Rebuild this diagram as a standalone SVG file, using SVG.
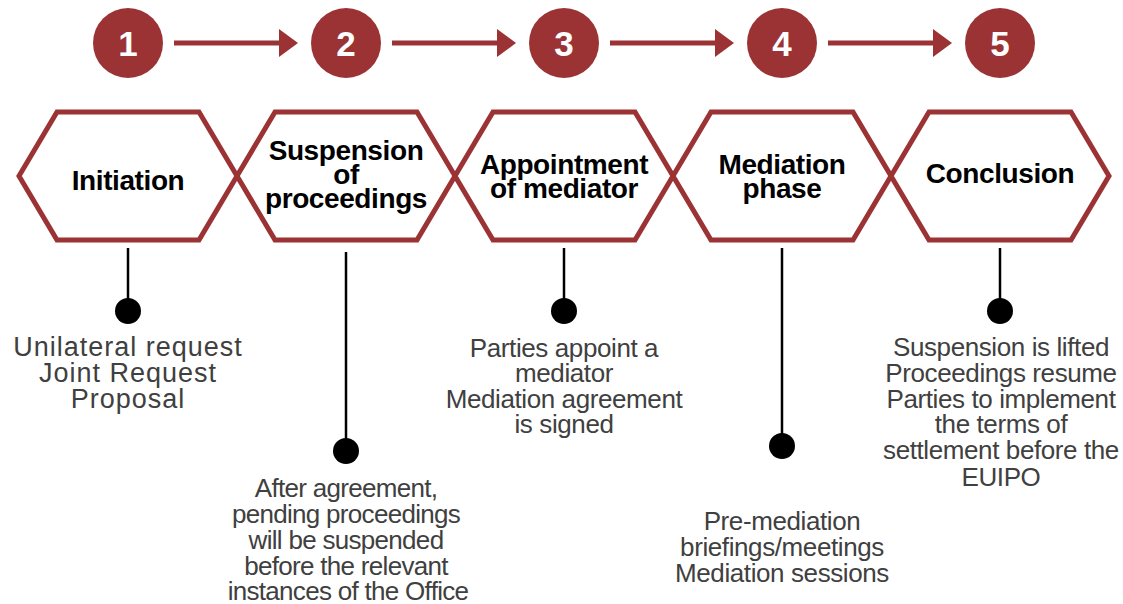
<svg xmlns="http://www.w3.org/2000/svg" width="1123" height="604" viewBox="0 0 1123 604">
  <style>
    .step { fill: #9b3335; }
    .num { fill: #ffffff; font-family: "Liberation Sans", Arial, sans-serif; font-weight: bold; font-size: 35px; text-anchor: middle; }
    .hex { fill: #ffffff; stroke: #9b3335; stroke-width: 5; stroke-linejoin: miter; }
    .title { fill: #000000; font-family: "Liberation Sans", Arial, sans-serif; font-weight: bold; font-size: 28px; letter-spacing: -0.4px; text-anchor: middle; }
    .stem { stroke: #000000; stroke-width: 2.5; fill: none; }
    .dot { fill: #000000; }
    .desc { fill: #404040; font-family: "Liberation Sans", Arial, sans-serif; font-size: 26px; letter-spacing: -0.4px; text-anchor: middle; }
    .desc.wide { font-size: 27px; letter-spacing: 1px; }
    .desc.tight { letter-spacing: -0.7px; }
    .flow { stroke: #9b3335; stroke-width: 5; fill: none; }
    .head { fill: #9b3335; }
  </style>
  <defs>
    <polygon id="hexShape" class="hex" points="-109,0 -71,-64 71,-64 109,0 71,64 -71,64"/>
    <g id="arrow">
      <line class="flow" x1="0" y1="0" x2="108" y2="0"/>
      <polygon class="head" points="105,-14 124,0 105,14"/>
    </g>
  </defs>

  <!-- arrows between the numbered steps -->
  <g id="connectors">
    <use href="#arrow" x="174" y="43"/>
    <use href="#arrow" x="392" y="43"/>
    <use href="#arrow" x="610" y="43"/>
    <use href="#arrow" x="828" y="43"/>
  </g>

  <!-- step 1 -->
  <g id="step1">
    <circle class="step" cx="128" cy="43" r="35"/>
    <text class="num" x="128" y="56">1</text>
    <use href="#hexShape" x="128" y="176"/>
    <text class="title" x="128" y="190">Initiation</text>
    <line class="stem" x1="128" y1="248" x2="128" y2="311"/>
    <circle class="dot" cx="128" cy="311" r="13"/>
    <text class="desc wide" y="356"><tspan x="128">Unilateral request</tspan><tspan x="128" dy="26">Joint Request</tspan><tspan x="128" dy="26">Proposal</tspan></text>
  </g>

  <!-- step 2 -->
  <g id="step2">
    <circle class="step" cx="346" cy="43" r="35"/>
    <text class="num" x="346" y="56">2</text>
    <use href="#hexShape" x="346" y="176"/>
    <text class="title" y="160"><tspan x="346">Suspension</tspan><tspan x="346" dy="24">of</tspan><tspan x="346" dy="24">proceedings</tspan></text>
    <line class="stem" x1="346" y1="252" x2="346" y2="451"/>
    <circle class="dot" cx="346" cy="451" r="13"/>
    <text class="desc tight" y="497"><tspan x="346">After agreement,</tspan><tspan x="346" dy="26">pending proceedings</tspan><tspan x="346" dy="26">will be suspended</tspan><tspan x="346" dy="26">before the relevant</tspan><tspan x="348" dy="25">instances of the Office</tspan></text>
  </g>

  <!-- step 3 -->
  <g id="step3">
    <circle class="step" cx="564" cy="43" r="35"/>
    <text class="num" x="564" y="56">3</text>
    <use href="#hexShape" x="564" y="176"/>
    <text class="title" y="174"><tspan x="564">Appointment</tspan><tspan x="564" dy="24">of mediator</tspan></text>
    <line class="stem" x1="564" y1="248" x2="564" y2="311"/>
    <circle class="dot" cx="564" cy="311" r="13"/>
    <text class="desc" y="357"><tspan x="564">Parties appoint a</tspan><tspan x="564" dy="25">mediator</tspan><tspan x="564" dy="26">Mediation agreement</tspan><tspan x="564" dy="25">is signed</tspan></text>
  </g>

  <!-- step 4 -->
  <g id="step4">
    <circle class="step" cx="782" cy="43" r="35"/>
    <text class="num" x="782" y="56">4</text>
    <use href="#hexShape" x="782" y="176"/>
    <text class="title" y="174"><tspan x="782">Mediation</tspan><tspan x="782" dy="24">phase</tspan></text>
    <line class="stem" x1="782" y1="248" x2="782" y2="446"/>
    <circle class="dot" cx="782" cy="446" r="13"/>
    <text class="desc" y="530"><tspan x="782">Pre-mediation</tspan><tspan x="782" dy="26">briefings/meetings</tspan><tspan x="782" dy="26">Mediation sessions</tspan></text>
  </g>

  <!-- step 5 -->
  <g id="step5">
    <circle class="step" cx="1000" cy="43" r="35"/>
    <text class="num" x="1000" y="56">5</text>
    <use href="#hexShape" x="1000" y="176"/>
    <text class="title" x="1000" y="183">Conclusion</text>
    <line class="stem" x1="1000" y1="248" x2="1000" y2="311"/>
    <circle class="dot" cx="1000" cy="311" r="13"/>
    <text class="desc" y="356"><tspan x="1001">Suspension is lifted</tspan><tspan x="1001" dy="26">Proceedings resume</tspan><tspan x="1001" dy="26">Parties to implement</tspan><tspan x="1001" dy="25">the terms of</tspan><tspan x="1001" dy="26">settlement before the</tspan><tspan x="1001" dy="27">EUIPO</tspan></text>
  </g>
</svg>
